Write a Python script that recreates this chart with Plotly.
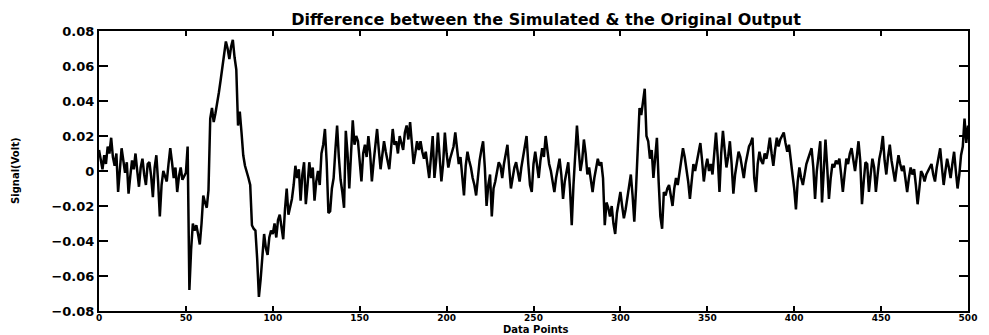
import plotly.graph_objects as go

# Difference signal (simulated minus original), in millivolts, one value per data point 0..500
diff_mv = [
    12, 6, 1, 9, 4, 14, 10, 19, 8, 3,
    10, -12, 2, 13, 6, -1, 5, -13, -3, 6,
    1, 10, 0, -9, 2, 7, -2, -8, 4, 5,
    -3, -15, 2, 9, -6, -26, -8, 0, -3, -6,
    4, 13, 5, -4, 2, -12, -3, 2, -5, -3,
    -1, 14, -68, -45, -30, -34, -31, -36, -42, -30,
    -14, -18, -21, -11, 30, 36, 28, 33, 38, 45,
    52, 59, 66, 74, 70, 64, 71, 75, 65, 58,
    26, 34, 22, 9, 3, 0, -4, -8, -31, -33,
    -34, -50, -72, -62, -48, -36, -44, -48, -38, -34,
    -36, -30, -38, -28, -25, -32, -39, -22, -10, -25,
    -20, -16, -8, 3, -4, 1, -17, -2, 5, -19,
    -8, 5, -4, 2, -17, -6, 0, -8, 10, 15,
    24, 5, -24, -23, -10, -4, 12, 26, 8, -5,
    -12, -21, 23, 10, -10, 8, 29, 15, 20, 17,
    6, -6, 10, 15, 8, 20, 10, -6, 5, 14,
    24, 12, 1, 9, 17, 11, 5, 1, 12, 24,
    15, 17, 10, 20, 16, 12, 22, 26, 18, 28,
    16, 4, 10, 17, 12, 17, 11, 7, 11, 2,
    -4, 8, 20, -4, 6, 22, 10, -6, 4, 22,
    10, 2, 7, 11, 14, 22, 12, 4, 8, -2,
    -14, 3, 11, 6, 2, -4, -8, -14, -2, 6,
    12, 17, 2, -20, -8, -2, -26, -10, -6, 0,
    5, 3, -4, 4, 10, 15, 2, -10, -4, 2,
    5, -2, -6, 2, 8, 14, 20, 4, -8, -12,
    4, 11, 2, -4, 6, 13, 8, 20, 12, 4,
    0, -6, -12, -4, 2, 7, -2, -16, -6, 0,
    5, -10, -31, -8, 10, 26, 12, 0, 6, 18,
    10, -2, 2, -6, -12, -4, 2, 7, 3, 5,
    -4, -31, -18, -21, -26, -20, -30, -36, -24, -18,
    -12, -20, -27, -22, -16, -10, -2, -14, -29, -10,
    11, 36, 32, 40, 47, 20, 17, 7, 12, -4,
    6, 19, -6, -26, -33, -12, -14, -10, -8, -14,
    -20, -10, -4, -8, 0, 6, 13, 8, 2, -6,
    -16, -6, 4, 0, 6, 10, 16, 6, -6, 2,
    7, 0, 4, -2, 10, 22, 8, -12, 10, 23,
    12, 2, 8, 17, 4, -13, -2, 5, 11, 8,
    2, -4, 4, 10, 14, 16, 19, -4, -12, 4,
    11, 6, 4, 10, 7, 12, 19, 10, 3, 12,
    19, 14, 18, 20, 22, 16, 11, 15, 8, -2,
    -10, -22, -6, 2, -4, -8, -2, 4, 7, 10,
    13, 2, -16, 0, 10, 17, -18, 4, 18, 2,
    -16, -4, 4, 2, 6, 4, 7, -2, -12, -2,
    7, 4, 10, 13, 6, 0, 8, 17, 6, -19,
    -6, 5, 4, -12, -2, 7, 2, -12, -2, 7,
    12, 20, 6, -2, 8, 15, 6, 0, -6, 2,
    9, 4, 0, 3, -4, -12, -4, 2, -2, 1,
    -8, -19, -10, 0, -2, -6, -2, 0, 2, 4,
    -2, -6, 2, 8, 13, 2, -8, 0, 7, 2,
    -4, 4, 11, 0, -10, -2, 9, 14, 30, 16,
    26,
]
data_points = list(range(len(diff_mv)))
signal_volt = [v / 1000 for v in diff_mv]

y_ticks = [0.08, 0.06, 0.04, 0.02, 0, -0.02, -0.04, -0.06, -0.08]
y_tick_text = ["0.08", "0.06", "0.04", "0.02", "0", "\u22120.02", "\u22120.04", "\u22120.06", "\u22120.08"]
x_ticks = [0, 50, 100, 150, 200, 250, 300, 350, 400, 450, 500]

W, H = 989, 335
L, R, T, B = 99, 21, 31, 24
PLOT_H = H - T - B

fig = go.Figure(
    go.Scatter(
        x=data_points,
        y=signal_volt,
        mode="lines",
        line=dict(color="black", width=2.5),
        hoverinfo="skip",
    )
)

axis_common = dict(
    ticks="inside",
    tickwidth=1.5,
    tickcolor="black",
    showline=True,
    linecolor="black",
    linewidth=2,
    mirror="ticks",
    showgrid=False,
    zeroline=False,
    automargin=False,
)

fig.update_layout(
    width=W,
    height=H,
    margin=dict(l=L, r=R, t=T, b=B),
    paper_bgcolor="white",
    plot_bgcolor="white",
    showlegend=False,
    title=dict(
        text="Difference between the Simulated & the Original Output",
        x=546 / W,
        xanchor="center",
        xref="container",
        y=1 - 19 / H,
        yanchor="middle",
        yref="container",
        font=dict(family="DejaVu Sans", size=16, color="black", weight="bold"),
    ),
    xaxis=dict(
        range=[0, 500],
        tickvals=x_ticks,
        ticklen=5,
        ticklabelstandoff=-3,
        tickfont=dict(family="DejaVu Sans", size=9, color="black", weight="bold"),
        **axis_common,
    ),
    yaxis=dict(
        range=[-0.08, 0.08],
        tickvals=y_ticks,
        ticktext=y_tick_text,
        ticklen=9,
        tickfont=dict(family="DejaVu Sans", size=13, color="black", weight="bold"),
        **axis_common,
    ),
    annotations=[
        dict(
            text="Data Points",
            x=(536 - L) / (W - L - R),
            xref="paper",
            y=-(329 - (H - B)) / PLOT_H,
            yref="paper",
            xanchor="center",
            yanchor="middle",
            showarrow=False,
            font=dict(family="DejaVu Sans", size=10, color="black", weight="bold"),
        ),
        dict(
            text="Signal(Volt)",
            x=(15 - L) / (W - L - R),
            xref="paper",
            y=0.5,
            yref="paper",
            xanchor="center",
            yanchor="middle",
            textangle=-90,
            showarrow=False,
            font=dict(family="DejaVu Sans", size=10, color="black", weight="bold"),
        ),
    ],
)

fig.write_html("out.html")
